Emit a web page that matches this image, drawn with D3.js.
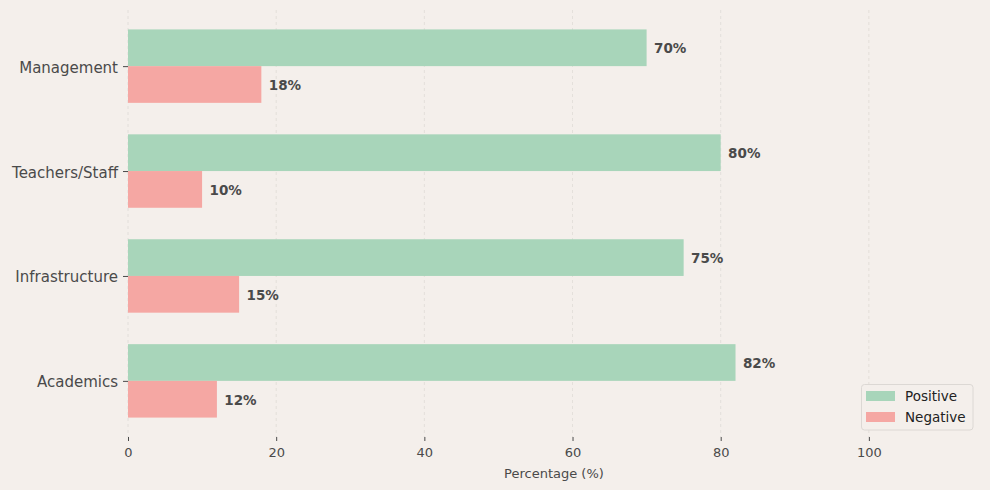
<!DOCTYPE html>
<html>
<head>
<meta charset="utf-8">
<script src="https://cdn.jsdelivr.net/npm/d3@7"></script>
<style>
  body { margin: 0; background: #f4efeb; }
  svg { display: block; font-family: "DejaVu Sans", sans-serif; }
</style>
</head>
<body>
<svg id="chart" width="990" height="490"></svg>
<script>
var categories = ["Academics", "Infrastructure", "Teachers/Staff", "Management"];
var positive = [82, 75, 80, 70];
var negative = [12, 15, 10, 18];
var xTicks = [0, 20, 40, 60, 80, 100];

var svg = d3.select("#chart"),
  margin = {top: 10, right: 10, bottom: 53, left: 128},
  width = 990 - margin.left - margin.right,
  height = 490 - margin.top - margin.bottom,
  g = svg.append("g").attr("transform", "translate(" + margin.left + "," + margin.top + ")");

svg.insert("rect", "g").attr("width", 990).attr("height", 490).attr("fill", "#f4efeb");

var x = d3.scaleLinear().domain([0, 115]).range([0, width]);
// index scale: 0 at bottom, matplotlib-style margins
var y = d3.scaleLinear().domain([-0.535, 3.535]).range([height, 0]);
var barH = 0.35;

// grid
g.append("g").selectAll("line")
  .data(xTicks)
  .enter().append("line")
  .attr("x1", function(d) { return x(d); })
  .attr("x2", function(d) { return x(d); })
  .attr("y1", 0).attr("y2", height)
  .attr("stroke", "#dedad6").attr("stroke-width", 0.8)
  .attr("stroke-dasharray", "3,3");

var rows = categories.map(function(c, i) {
  return {cat: c, i: i, pos: positive[i], neg: negative[i]};
});

// positive bars (above center)
g.selectAll(".pos").data(rows).enter().append("rect")
  .attr("class", "pos")
  .attr("x", x(0))
  .attr("y", function(d) { return y(d.i + barH); })
  .attr("width", function(d) { return x(d.pos) - x(0); })
  .attr("height", y(0) - y(barH))
  .attr("fill", "#a8d5ba");

g.selectAll(".neg").data(rows).enter().append("rect")
  .attr("class", "neg")
  .attr("x", x(0))
  .attr("y", function(d) { return y(d.i); })
  .attr("width", function(d) { return x(d.neg) - x(0); })
  .attr("height", y(0) - y(barH))
  .attr("fill", "#f5a7a3");

// value labels
function labels(cls, key, off) {
  g.selectAll("." + cls).data(rows).enter().append("text")
    .attr("x", function(d) { return x(d[key] + 1); })
    .attr("y", function(d) { return y(d.i + off) + 1; })
    .attr("dy", "0.35em")
    .attr("font-size", "13.5px")
    .attr("font-weight", "bold")
    .attr("fill", "#4a4a4a")
    .text(function(d) { return d[key] + "%"; });
}
labels("plab", "pos", barH / 2);
labels("nlab", "neg", -barH / 2);

// y axis
var yAxis = g.append("g")
  .call(d3.axisLeft(y).tickValues(d3.range(categories.length))
    .tickFormat(function(i) { return categories[i]; }).tickSize(5).tickPadding(5));
yAxis.select(".domain").remove();
yAxis.selectAll("line").attr("stroke", "#4a4a4a");
yAxis.selectAll("text").attr("font-size", "15px").attr("fill", "#4a4a4a")
  .attr("font-family", "DejaVu Sans").attr("dy", "0.4em");

// x axis
var xAxis = g.append("g")
  .attr("transform", "translate(0," + height + ")")
  .call(d3.axisBottom(x).tickValues(xTicks).tickSize(4).tickPadding(7));
xAxis.select(".domain").remove();
xAxis.selectAll("line").attr("stroke", "#4a4a4a");
xAxis.selectAll("text").attr("font-size", "13px").attr("fill", "#4a4a4a").attr("font-family", "DejaVu Sans");

g.append("text")
  .attr("x", x(57.5))
  .attr("y", height + 41)
  .attr("text-anchor", "middle")
  .attr("font-size", "13px")
  .attr("fill", "#4a4a4a")
  .text("Percentage (%)");

// legend
var leg = svg.append("g").attr("transform", "translate(861.5,384.5)");
leg.append("rect").attr("width", 111.5).attr("height", 45.5).attr("rx", 3)
  .attr("fill", "#f4efeb").attr("stroke", "#dcd8d4");
[["Positive", "#a8d5ba"], ["Negative", "#f5a7a3"]].forEach(function(e, k) {
  leg.append("rect").attr("x", 4.5).attr("y", 6.5 + k * 21).attr("width", 29).attr("height", 10).attr("fill", e[1]);
  leg.append("text").attr("x", 43.5).attr("y", 11.5 + k * 21).attr("dy", "0.35em")
    .attr("font-size", "13.5px").attr("fill", "#222").text(e[0]);
});
</script>
</body>
</html>
